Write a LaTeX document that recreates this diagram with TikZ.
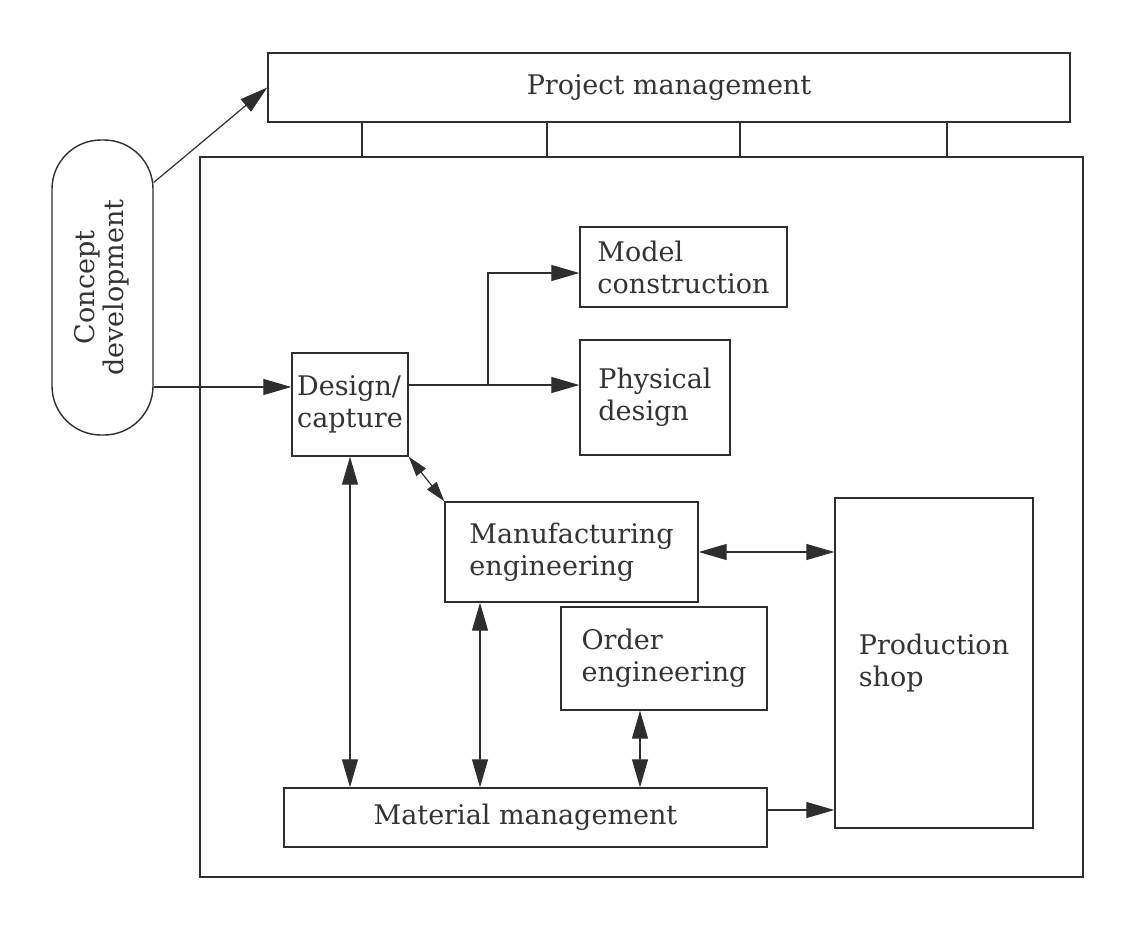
\documentclass[tikz,border=0pt]{standalone}
\usepackage{fontspec}
\usepackage{graphicx}
\setmainfont{DejaVu Serif}
\usetikzlibrary{arrows.meta,calc}
\definecolor{ink}{HTML}{2E2E2E}
\definecolor{txt}{HTML}{333333}
\newcommand{\labelfont}{\fontsize{27}{32}\selectfont}
\begin{document}
\begin{tikzpicture}[x=1pt,y=-1pt,
  every node/.style={font=\labelfont, text=txt, inner sep=0pt},
  box/.style={draw=ink, line width=1.4pt, rectangle, align=left},
  stadium/.style={draw=ink, line width=1.4pt, rectangle, rounded corners=49pt},
  link/.style={draw=ink, line width=1.2pt},
  arr/.style={link, -{Triangle[length=28pt,width=16pt]}},
  darr/.style={link, {Triangle[length=28pt,width=16pt]}-{Triangle[length=28pt,width=16pt]}},
  sdarr/.style={link, {Triangle[length=20pt,width=12pt]}-{Triangle[length=20pt,width=12pt]}}]
\useasboundingbox (0,0) rectangle (1124,939);

% top level and the department frame
\node[box, minimum width=802pt, minimum height=69pt] (pm) at (669,87.5) {Project management};
\node[box, minimum width=883pt, minimum height=720pt] (dept) at (641.5,517) {};
\node[stadium, minimum width=101pt, minimum height=295pt] (cd) at (102.5,287.5)
  {\rotatebox{90}{\begin{tabular}{@{}c@{}}Concept\\[-3pt]development\end{tabular}}};

% inner functions
\node[box, minimum width=116pt, minimum height=103pt] (dc) at (350,404.5) {Design/\\capture};
\node[box, minimum width=207pt, minimum height=80pt] (mc) at (683.5,267) {Model\\construction};
\node[box, minimum width=150pt, minimum height=115pt] (pd) at (655,397.5) {Physical\\design};
\node[box, minimum width=253pt, minimum height=100pt] (me) at (571.5,552) {Manufacturing\\engineering};
\node[box, minimum width=206pt, minimum height=103pt] (oe) at (664,658.5) {Order\\engineering};
\node[box, minimum width=198pt, minimum height=330pt] (ps) at (934,663) {Production\\shop};
\node[box, minimum width=483pt, minimum height=59pt] (mm) at (525.5,817.5) {Material management};

% project management ties into the department frame
\foreach \x in {362,547,740,947}
  \draw[link] (pm.south -| \x,0) -- (dept.north -| \x,0);

% concept development feeds
\draw[arr] (cd.64) -- (pm.west);
\coordinate (dcin) at (dc.west |- 0,387);
\draw[arr] (cd.east |- dcin) -- (dcin);

% design/capture outputs
\coordinate (pdin) at (pd.west |- 0,385);
\coordinate (mcin) at (mc.west |- 0,273);
\draw[arr] (dc.east |- pdin) -- (pdin);
\draw[arr] (488,0 |- pdin) |- (mcin);

% exchanges with manufacturing and material management
\draw[sdarr] (dc.south east) -- (me.north west);
\draw[darr] (dc.south) -- (dc.south |- mm.north);
\coordinate (mebot) at (me.south -| 480,0);
\draw[darr] (mebot) -- (mebot |- mm.north);
\coordinate (oebot) at (oe.south -| 640,0);
\draw[darr] (oebot) -- (oebot |- mm.north);
\draw[darr] (me.east) -- (me.east -| ps.west);
\coordinate (mmout) at (mm.east |- 0,810);
\draw[arr] (mmout) -- (mmout -| ps.west);
\end{tikzpicture}
\end{document}
